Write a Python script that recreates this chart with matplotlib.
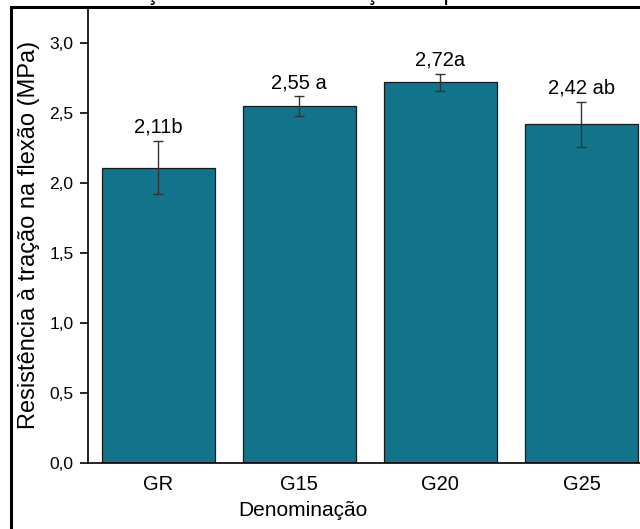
# Resistencia a tracao na flexao - grafico de barras

import matplotlib
matplotlib.use("Agg")
import matplotlib.pyplot as plt
from matplotlib.patches import Rectangle

plt.rcParams['font.family'] = ['Liberation Sans', 'DejaVu Sans']

# dados
grupos = ['GR', 'G15', 'G20', 'G25']
medias = [2.11, 2.55, 2.72, 2.42]
erros = [0.19, 0.07, 0.06, 0.16]
letras = ['b', ' a', 'a', ' ab']
yticks = [0.0, 0.5, 1.0, 1.5, 2.0, 2.5, 3.0]

cor = '#12738B'

fig = plt.figure(figsize=(6.4, 5.29), dpi=100)
W, H = 640, 529

# moldura da figura (recortada na imagem original)
fig.add_artist(Rectangle((11 / W, -0.1), 1.2, 1 - 7 / H + 0.1,
                         transform=fig.transFigure, fill=False,
                         edgecolor='black', linewidth=2.2))

# trecho cortado da legenda do documento
fig.text(-0.02, 1.0, 'esistência à tração na flexão em função do percentual de',
         fontsize=17, va='baseline', ha='left')

ax = fig.add_axes([87.5 / W, 1 - 463 / H, (652 - 87.5) / W, (463 - 8) / H])

x = range(len(grupos))
ax.bar(x, medias, width=0.8, color=cor, edgecolor='#1a1a1a', linewidth=0.9,
       yerr=erros, capsize=3.5,
       error_kw=dict(ecolor='#333333', elinewidth=1.0, capthick=1.0))

for i in x:
    txt = f'{medias[i]:.2f}'.replace('.', ',') + letras[i]
    ax.annotate(txt, (i, medias[i] + erros[i]), xytext=(0, 3),
                textcoords='offset points', ha='center', va='bottom',
                fontsize=14.5)

ax.set_xlim(-0.5, 3.5)
ax.set_ylim(0, 3.25)
ax.set_xticks(list(x))
ax.set_xticklabels(grupos, fontsize=14.5)
ax.set_yticks(yticks)
ax.set_yticklabels([f'{v:.1f}'.replace('.', ',') for v in yticks], fontsize=12.5)
ax.tick_params(axis='x', length=0, pad=9)
ax.tick_params(axis='y', length=6, width=1.2, direction='out', pad=4)

ax.spines['top'].set_visible(False)
ax.spines['right'].set_visible(False)
ax.spines['left'].set_linewidth(1.2)
ax.spines['bottom'].set_linewidth(1.2)

ax.set_xlabel('Denominação', fontsize=15)
ax.xaxis.set_label_coords((303 - 87.5) / (652 - 87.5), -38 / 455)
ax.set_ylabel('Resistência à tração na flexão (MPa)', fontsize=17)
ax.yaxis.set_label_coords(-47.5 / 564.5, (463 - 235) / 455)

fig.savefig('out.png', dpi=100)
